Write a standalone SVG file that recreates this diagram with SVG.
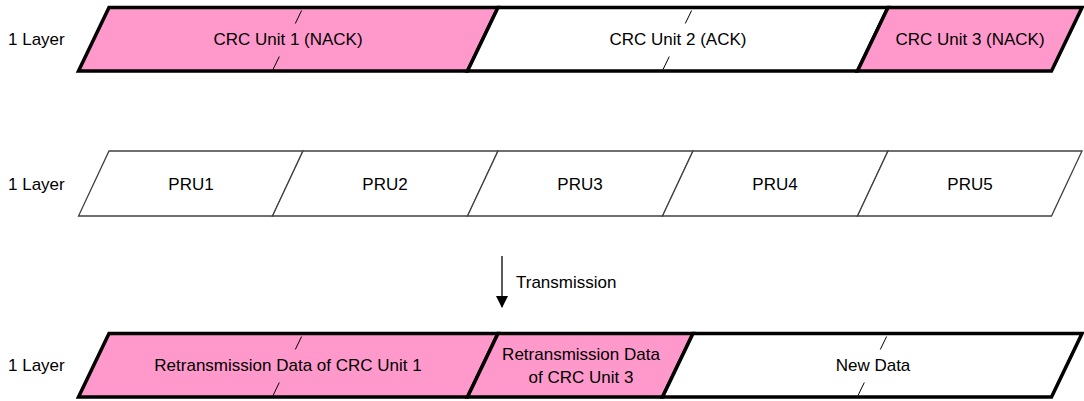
<svg xmlns="http://www.w3.org/2000/svg" width="1084" height="401" viewBox="0 0 1084 401">
<style>
text{font-family:"Liberation Sans",Arial,sans-serif;font-size:17px;fill:#000;text-anchor:middle;dominant-baseline:central}
.lbl{text-anchor:start}
.thick{stroke:#000;stroke-width:3.5;stroke-linejoin:miter}
.pink{fill:#FF99CC}
.white{fill:#fff}
.pru{fill:#fff;stroke:#404040;stroke-width:1.3}
.tick{stroke:#000;stroke-width:1;fill:none}
</style>
<defs>
<marker id="ah" markerWidth="12" markerHeight="12" refX="11" refY="6" orient="auto" markerUnits="userSpaceOnUse">
<path d="M0,0 L12,6 L0,12 z" fill="#000"/>
</marker>
</defs>
<rect width="1084" height="401" fill="#fff"/>

<text class="lbl" x="8" y="39">1 Layer</text>
<text class="lbl" x="8" y="184">1 Layer</text>
<text class="lbl" x="8" y="365">1 Layer</text>

<!-- Top row -->
<g id="crc1">
<polygon class="thick pink" points="109,7.5 498,7.5 467.5,71 78.5,71"/>
<line class="tick" x1="301.6" y1="10.5" x2="295.3" y2="23.5"/>
<line class="tick" x1="279.3" y1="56.5" x2="273" y2="69.5"/>
<text x="288" y="39">CRC Unit 1 (NACK)</text>
</g>
<g id="crc2">
<polygon class="thick white" points="498,7.5 888,7.5 857.5,71 467.5,71"/>
<line class="tick" x1="691.6" y1="10.5" x2="685.3" y2="23.5"/>
<line class="tick" x1="669.3" y1="56.5" x2="663" y2="69.5"/>
<text x="678" y="39">CRC Unit 2 (ACK)</text>
</g>
<g id="crc3">
<polygon class="thick pink" points="888,7.5 1082,7.5 1051.5,71 857.5,71"/>
<text x="970" y="39">CRC Unit 3 (NACK)</text>
</g>

<!-- PRU row -->
<g id="pru1"><polygon class="pru" points="109,151 303,151 272.5,216 78.5,216"/><text x="191" y="184">PRU1</text></g>
<g id="pru2"><polygon class="pru" points="303,151 498,151 467.5,216 272.5,216"/><text x="385" y="184">PRU2</text></g>
<g id="pru3"><polygon class="pru" points="498,151 693,151 662.5,216 467.5,216"/><text x="580" y="184">PRU3</text></g>
<g id="pru4"><polygon class="pru" points="693,151 888,151 857.5,216 662.5,216"/><text x="775" y="184">PRU4</text></g>
<g id="pru5"><polygon class="pru" points="888,151 1082,151 1051.5,216 857.5,216"/><text x="970" y="184">PRU5</text></g>

<!-- Connector -->
<g id="connectors">
<line x1="502" y1="256" x2="502" y2="307" stroke="#000" stroke-width="1.3" marker-end="url(#ah)"/>
<text class="lbl" x="516" y="282">Transmission</text>
</g>

<!-- Bottom row -->
<g id="retx1">
<polygon class="thick pink" points="109,333.5 498,333.5 467.5,397 78.5,397"/>
<line class="tick" x1="301.6" y1="336.5" x2="295.3" y2="349.5"/>
<line class="tick" x1="279.3" y1="382.5" x2="273" y2="395.5"/>
<text x="288" y="365">Retransmission Data of CRC Unit 1</text>
</g>
<g id="retx3">
<polygon class="thick pink" points="498,333.5 693,333.5 662.5,397 467.5,397"/>
<text x="581" y="354">Retransmission Data</text>
<text x="581" y="377">of CRC Unit 3</text>
</g>
<g id="newdata">
<polygon class="thick white" points="693,333.5 1082,333.5 1051.5,397 662.5,397"/>
<line class="tick" x1="886.6" y1="336.5" x2="880.3" y2="349.5"/>
<line class="tick" x1="864.3" y1="382.5" x2="858" y2="395.5"/>
<text x="873" y="365">New Data</text>
</g>
</svg>
